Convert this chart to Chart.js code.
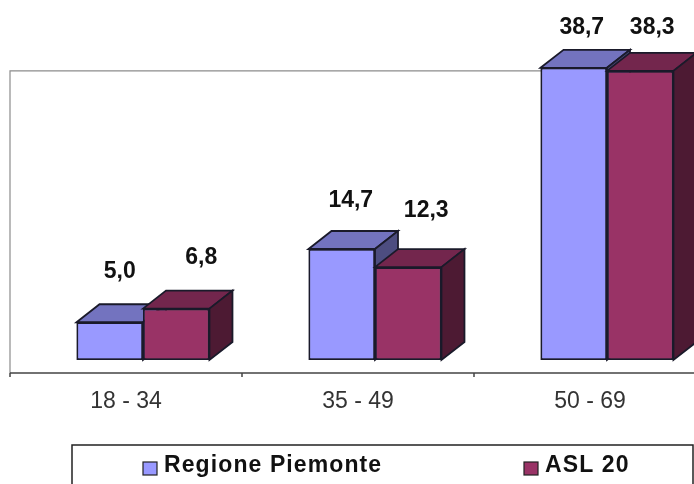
<!DOCTYPE html>
<html>
<head>
<meta charset="utf-8">
<script src="https://cdn.jsdelivr.net/npm/chart.js@4"></script>
<style>
  html, body { margin: 0; background: #fff; overflow: hidden; }
  #wrap { width: 694px; height: 484px; overflow: hidden; }
</style>
</head>
<body>
<div id="wrap"><canvas id="chart" width="740" height="484"></canvas></div>
<script>
const categories = ["18 - 34", "35 - 49", "50 - 69"];
const piemonte = [5.0, 14.7, 38.7];
const asl20 = [6.8, 12.3, 38.3];

const FRONT = ["#9999ff", "#993366"];
const TOP = ["#7373bf", "#73264d"];
const SIDE = ["#4d4d80", "#4d1a33"];
const DEPTH_X = 23, DEPTH_Y = 18;
const EDGE = "#1a1a2a";
const FONT = '"Liberation Sans", Arial, sans-serif';

// value labels were placed by hand in the original, so each has its own nudge
const labelNudge = [
  [[10, -51], [25, -51]],
  [[9, -48], [18, -56]],
  [[8, -40], [12, -43]],
];

function face(ctx, pts, fill) {
  ctx.beginPath();
  pts.forEach((p, i) => (i ? ctx.lineTo(p[0], p[1]) : ctx.moveTo(p[0], p[1])));
  ctx.closePath();
  ctx.fillStyle = fill;
  ctx.fill();
  ctx.strokeStyle = EDGE;
  ctx.lineWidth = 1.8;
  ctx.stroke();
}

const chart3d = {
  id: "chart3d",
  // back wall and floor axis sit in front of / behind the bars
  beforeDatasetsDraw(chart) {
    const ctx = chart.ctx, a = chart.chartArea, x = chart.scales.x, y = chart.scales.y;
    const left = a.left - 17, floor = a.bottom + 13, top = y.getPixelForValue(38.3);
    ctx.save();
    ctx.strokeStyle = "#8c8c8c";
    ctx.lineWidth = 1.2;
    ctx.beginPath();
    ctx.moveTo(left, floor);
    ctx.lineTo(left, top);
    ctx.lineTo(a.right, top);
    ctx.stroke();
    ctx.strokeStyle = "#444";
    ctx.lineWidth = 1.5;
    ctx.beginPath();
    ctx.moveTo(left, floor);
    ctx.lineTo(a.right, floor);
    categories.forEach((c, i) => {
      const tx = x.getPixelForValue(i) - x.width / categories.length / 2 - 17;
      ctx.moveTo(tx, floor);
      ctx.lineTo(tx, floor + 4);
    });
    ctx.stroke();
    ctx.restore();
  },
  afterDatasetsDraw(chart) {
    const ctx = chart.ctx;
    chart.data.datasets.forEach((ds, d) => {
      const meta = chart.getDatasetMeta(d);
      meta.data.forEach((bar, i) => {
        const l = bar.x - bar.width / 2, r = bar.x + bar.width / 2;
        ctx.save();
        face(ctx, [[l, bar.y], [l + DEPTH_X, bar.y - DEPTH_Y], [r + DEPTH_X, bar.y - DEPTH_Y], [r, bar.y]], TOP[d]);
        face(ctx, [[r, bar.y], [r + DEPTH_X, bar.y - DEPTH_Y], [r + DEPTH_X, bar.base - DEPTH_Y], [r, bar.base]], SIDE[d]);
        ctx.restore();
        bar.draw(ctx);
      });
    });
    // value labels
    ctx.save();
    ctx.font = "bold 23px " + FONT;
    ctx.fillStyle = "#111";
    ctx.textAlign = "center";
    ctx.textBaseline = "middle";
    chart.data.datasets.forEach((ds, d) => {
      chart.getDatasetMeta(d).data.forEach((bar, i) => {
        const n = labelNudge[i][d];
        ctx.fillText(ds.data[i].toFixed(1).replace(".", ","), bar.x + n[0], bar.y + n[1]);
      });
    });
    ctx.restore();
    drawLegend(chart);
  },
};

function drawLegend(chart) {
  const ctx = chart.ctx;
  const swatchX = [143, 524];
  ctx.save();
  ctx.strokeStyle = "#222";
  ctx.lineWidth = 1.5;
  ctx.strokeRect(72, 445, 621, 50);
  ctx.font = "bold 23px " + FONT;
  ctx.letterSpacing = "1.1px";
  ctx.textBaseline = "middle";
  chart.data.datasets.forEach((ds, d) => {
    ctx.fillStyle = FRONT[d];
    ctx.fillRect(swatchX[d], 462, 14, 13);
    ctx.strokeStyle = "#222";
    ctx.lineWidth = 1.2;
    ctx.strokeRect(swatchX[d], 462, 14, 13);
    ctx.fillStyle = "#111";
    ctx.fillText(ds.label, swatchX[d] + 21, 466);
  });
  ctx.restore();
}

new Chart(document.getElementById("chart"), {
  type: "bar",
  data: {
    labels: categories,
    datasets: [
      { label: "Regione Piemonte", data: piemonte, backgroundColor: FRONT[0] },
      { label: "ASL 20", data: asl20, backgroundColor: FRONT[1] },
    ],
  },
  options: {
    responsive: false,
    animation: false,
    layout: { padding: { left: 27, right: 17, top: 58, bottom: 0 } },
    datasets: {
      bar: { categoryPercentage: 0.573, barPercentage: 1, borderColor: EDGE, borderWidth: 1.8, borderSkipped: false },
    },
    plugins: { legend: { display: false }, tooltip: { enabled: false } },
    scales: {
      x: {
        grid: { display: false, drawTicks: false },
        border: { display: false },
        afterFit(scale) { scale.height = 124; },
        ticks: {
          padding: 28,
          labelOffset: -17,
          maxRotation: 0,
          autoSkip: false,
          color: "#333",
          font: { family: FONT, size: 23 },
        },
      },
      y: { display: false, min: 0, max: 40 },
    },
  },
  plugins: [chart3d],
});
</script>
</body>
</html>
